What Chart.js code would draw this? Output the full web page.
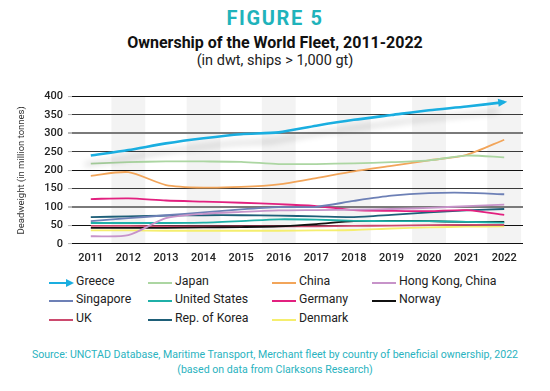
<!DOCTYPE html>
<html>
<head>
<meta charset="utf-8">
<script src="https://cdn.jsdelivr.net/npm/chart.js@4"></script>
<style>
    body { margin: 0; background: #fff; font-family: 'Roboto', sans-serif; }
    #page { position: relative; width: 550px; height: 391px; overflow: hidden; }
    .txt { position: absolute; left: 0; width: 550px; text-align: center; white-space: nowrap; }
    #fig { top: 6px; font-size: 20px; font-weight: bold; color: #1fb3bb; letter-spacing: 1.6px; }
    #title { top: 33px; font-size: 16px; font-weight: bold; color: #111; }
    #sub { top: 52px; font-size: 14.5px; color: #222; }
    #src1 { top: 348px; font-size: 10.6px; color: #2ab3c0; }
    #src2 { top: 363px; font-size: 10.6px; color: #2ab3c0; }
    #chartBox { position: absolute; left: 0; top: 85px; width: 550px; height: 180px; }
    .leg { position: absolute; font-size: 12.3px; color: #222; white-space: nowrap; }
    .leg span.sw { position: absolute; left: 0; top: 8px; width: 24px; height: 2px; }
    .leg span.lb { position: absolute; left: 27px; top: 0; }
</style>
</head>
<body>
<div id="page">
    <div class="txt" id="fig">FIGURE 5</div>
    <div class="txt" id="title">Ownership of the World Fleet, 2011-2022</div>
    <div class="txt" id="sub">(in dwt, ships &gt; 1,000 gt)</div>
    <div id="chartBox"><canvas id="fleetChart"></canvas></div>
    <div id="legend"></div>
    <div class="txt" id="src1">Source: UNCTAD Database, Maritime Transport, Merchant fleet by country of beneficial ownership, 2022</div>
    <div class="txt" id="src2">(based on data from Clarksons Research)</div>
</div>
<script>
// Data (million dwt)
const years = ['2011', '2012', '2013', '2014', '2015', '2016', '2017', '2018', '2019', '2020', '2021', '2022'];
const yTicks = [0, 50, 100, 150, 200, 250, 300, 350, 400];

const greece    = [240, 255, 273, 287, 298, 303, 321, 337, 350, 363, 373, 385];
const japan     = [218, 222, 224, 224, 223, 217, 217, 219, 222, 227, 240, 235];
const china     = [185, 195, 160, 153, 155, 162, 179, 197, 212, 227, 242, 283];
const hongKong  = [21, 24, 70, 82, 87, 91, 92, 93, 95, 98, 103, 107];
const singapore = [62, 70, 78, 86, 94, 100, 101, 117, 131, 138, 139, 135];
const usa       = [57, 57, 57, 58, 62, 67, 66, 63, 62, 62, 60, 58];
const germany   = [122, 124, 118, 115, 112, 108, 103, 92, 90, 89, 92, 79];
const norway    = [44, 44, 44, 45, 46, 48, 54, 62, 63, 62, 60, 60];
const uk        = [49, 49, 48, 48, 48, 48, 48, 49, 50, 51, 52, 52];
const korea     = [73, 75, 77, 78, 78, 77, 75, 73, 79, 86, 91, 95];
const denmark   = [37, 37, 36, 36, 36, 36, 37, 38, 42, 45, 47, 48];

const seriesNames = ['Greece', 'Japan', 'China', 'Hong Kong, China', 'Singapore', 'United States',
    'Germany', 'Norway', 'UK', 'Rep. of Korea', 'Denmark'];
const seriesData = [greece, japan, china, hongKong, singapore, usa, germany, norway, uk, korea, denmark];
const seriesColors = ['#1aaee0', '#acd6a2', '#f2a55a', '#c793c9', '#6d80b6', '#1fb0a8',
    '#e2207f', '#111111', '#cc4a6e', '#1e5f78', '#f5ee6e'];

// legend placement (4 columns, 3 rows)
const legCols = [49, 148, 272, 372];
const legRows = [274, 292, 311];

const tickFont = { family: 'Roboto, sans-serif', size: 11, weight: '500' };

// alternating grey column bands
const bandsPlugin = {
    id: 'bands',
    beforeDraw(chart) {
        const ctx = chart.ctx;
        const area = chart.chartArea;
        const x = chart.scales.x;
        const step = x.getPixelForValue(1) - x.getPixelForValue(0);
        ctx.save();
        ctx.fillStyle = '#f3f3f3';
        for (let i = 1; i < years.length; i += 2) {
            const cx = x.getPixelForValue(i);
            ctx.fillRect(cx - step * 0.45, area.top, step * 0.9, area.bottom - area.top);
        }
        ctx.restore();
    }
};

// shadow under the Greece line + arrow head
const greeceStyle = {
    id: 'greeceStyle',
    beforeDatasetDraw(chart, args) {
        if (args.index !== 0) return;
        const ctx = chart.ctx;
        ctx.save();
        ctx.shadowColor = 'rgba(0,0,0,0.22)';
        ctx.shadowBlur = 6;
        ctx.shadowOffsetX = -6;
        ctx.shadowOffsetY = 9;
    },
    afterDatasetDraw(chart, args) {
        if (args.index !== 0) return;
        const ctx = chart.ctx;
        ctx.restore();
        const pts = chart.getDatasetMeta(0).data;
        const p1 = pts[pts.length - 2], p2 = pts[pts.length - 1];
        const ang = Math.atan2(p2.y - p1.y, p2.x - p1.x);
        const len = 9;
        ctx.save();
        ctx.translate(p2.x + 3, p2.y + 3 * Math.tan(ang));
        ctx.rotate(ang);
        ctx.fillStyle = seriesColors[0];
        ctx.beginPath();
        ctx.moveTo(0, 0);
        ctx.lineTo(-len, -4);
        ctx.lineTo(-len, 4);
        ctx.closePath();
        ctx.fill();
        ctx.restore();
    }
};

const datasets = seriesNames.map((name, i) => ({
    label: name,
    data: seriesData[i],
    borderColor: seriesColors[i],
    backgroundColor: seriesColors[i],
    borderWidth: i === 0 ? 2.6 : 1.8,
    pointRadius: 0,
    tension: 0.25,
    fill: false,
    order: i === 0 ? 0 : 1
}));

new Chart(document.getElementById('fleetChart'), {
    type: 'line',
    data: { labels: years, datasets: datasets },
    options: {
        responsive: true,
        maintainAspectRatio: false,
        animation: false,
        layout: { padding: { top: 9, right: 27, left: 16, bottom: 0 } },
        plugins: {
            legend: { display: false },
            tooltip: { enabled: false }
        },
        scales: {
            x: {
                offset: true,
                grid: { display: false },
                border: { display: false },
                ticks: {
                    color: '#222',
                    font: tickFont,
                    padding: 0,
                    maxRotation: 0
                },
                afterFit(scale) { scale.height = 21; }
            },
            y: {
                min: 0,
                max: 400,
                afterBuildTicks(scale) { scale.ticks = yTicks.map(v => ({ value: v })); },
                border: { display: false },
                grid: {
                    color: ctx => {
                        const v = ctx.tick ? ctx.tick.value : 0;
                        if (v === 100 || v === 300) return '#7a7a7a';
                        if (v === 150 || v === 350 || v === 250) return '#3a3a3a';
                        return '#111';
                    },
                    lineWidth: ctx => {
                        const v = ctx.tick ? ctx.tick.value : 0;
                        return (v === 100 || v === 300) ? 2 : 1.1;
                    },
                    tickColor: '#bbb',
                    tickLength: 4
                },
                ticks: {
                    color: '#222',
                    font: tickFont,
                    padding: 5
                },
                title: {
                    display: true,
                    text: 'Deadweight (in million tonnes)',
                    color: '#333',
                    font: { family: 'Roboto, sans-serif', size: 9.5 },
                    padding: { top: 0, bottom: 0 }
                },
                afterFit(scale) { scale.width = 56; }
            }
        }
    },
    plugins: [bandsPlugin, greeceStyle]
});

// legend laid out in fixed columns like the original
const legend = document.getElementById('legend');
seriesNames.forEach((name, i) => {
    const item = document.createElement('div');
    item.className = 'leg';
    item.style.left = legCols[i % 4] + 'px';
    item.style.top = legRows[Math.floor(i / 4)] + 'px';
    let sw = '<span class="sw" style="background:' + seriesColors[i] + '"></span>';
    if (i === 0) {
        sw = '<span class="sw" style="background:' + seriesColors[0] + ';width:18px"></span>' +
             '<span style="position:absolute;left:17px;top:5px;width:0;height:0;border-top:4px solid transparent;' +
             'border-bottom:4px solid transparent;border-left:8px solid ' + seriesColors[0] + '"></span>';
    }
    item.innerHTML = sw + '<span class="lb">' + name + '</span>';
    legend.appendChild(item);
});
</script>
</body>
</html>
